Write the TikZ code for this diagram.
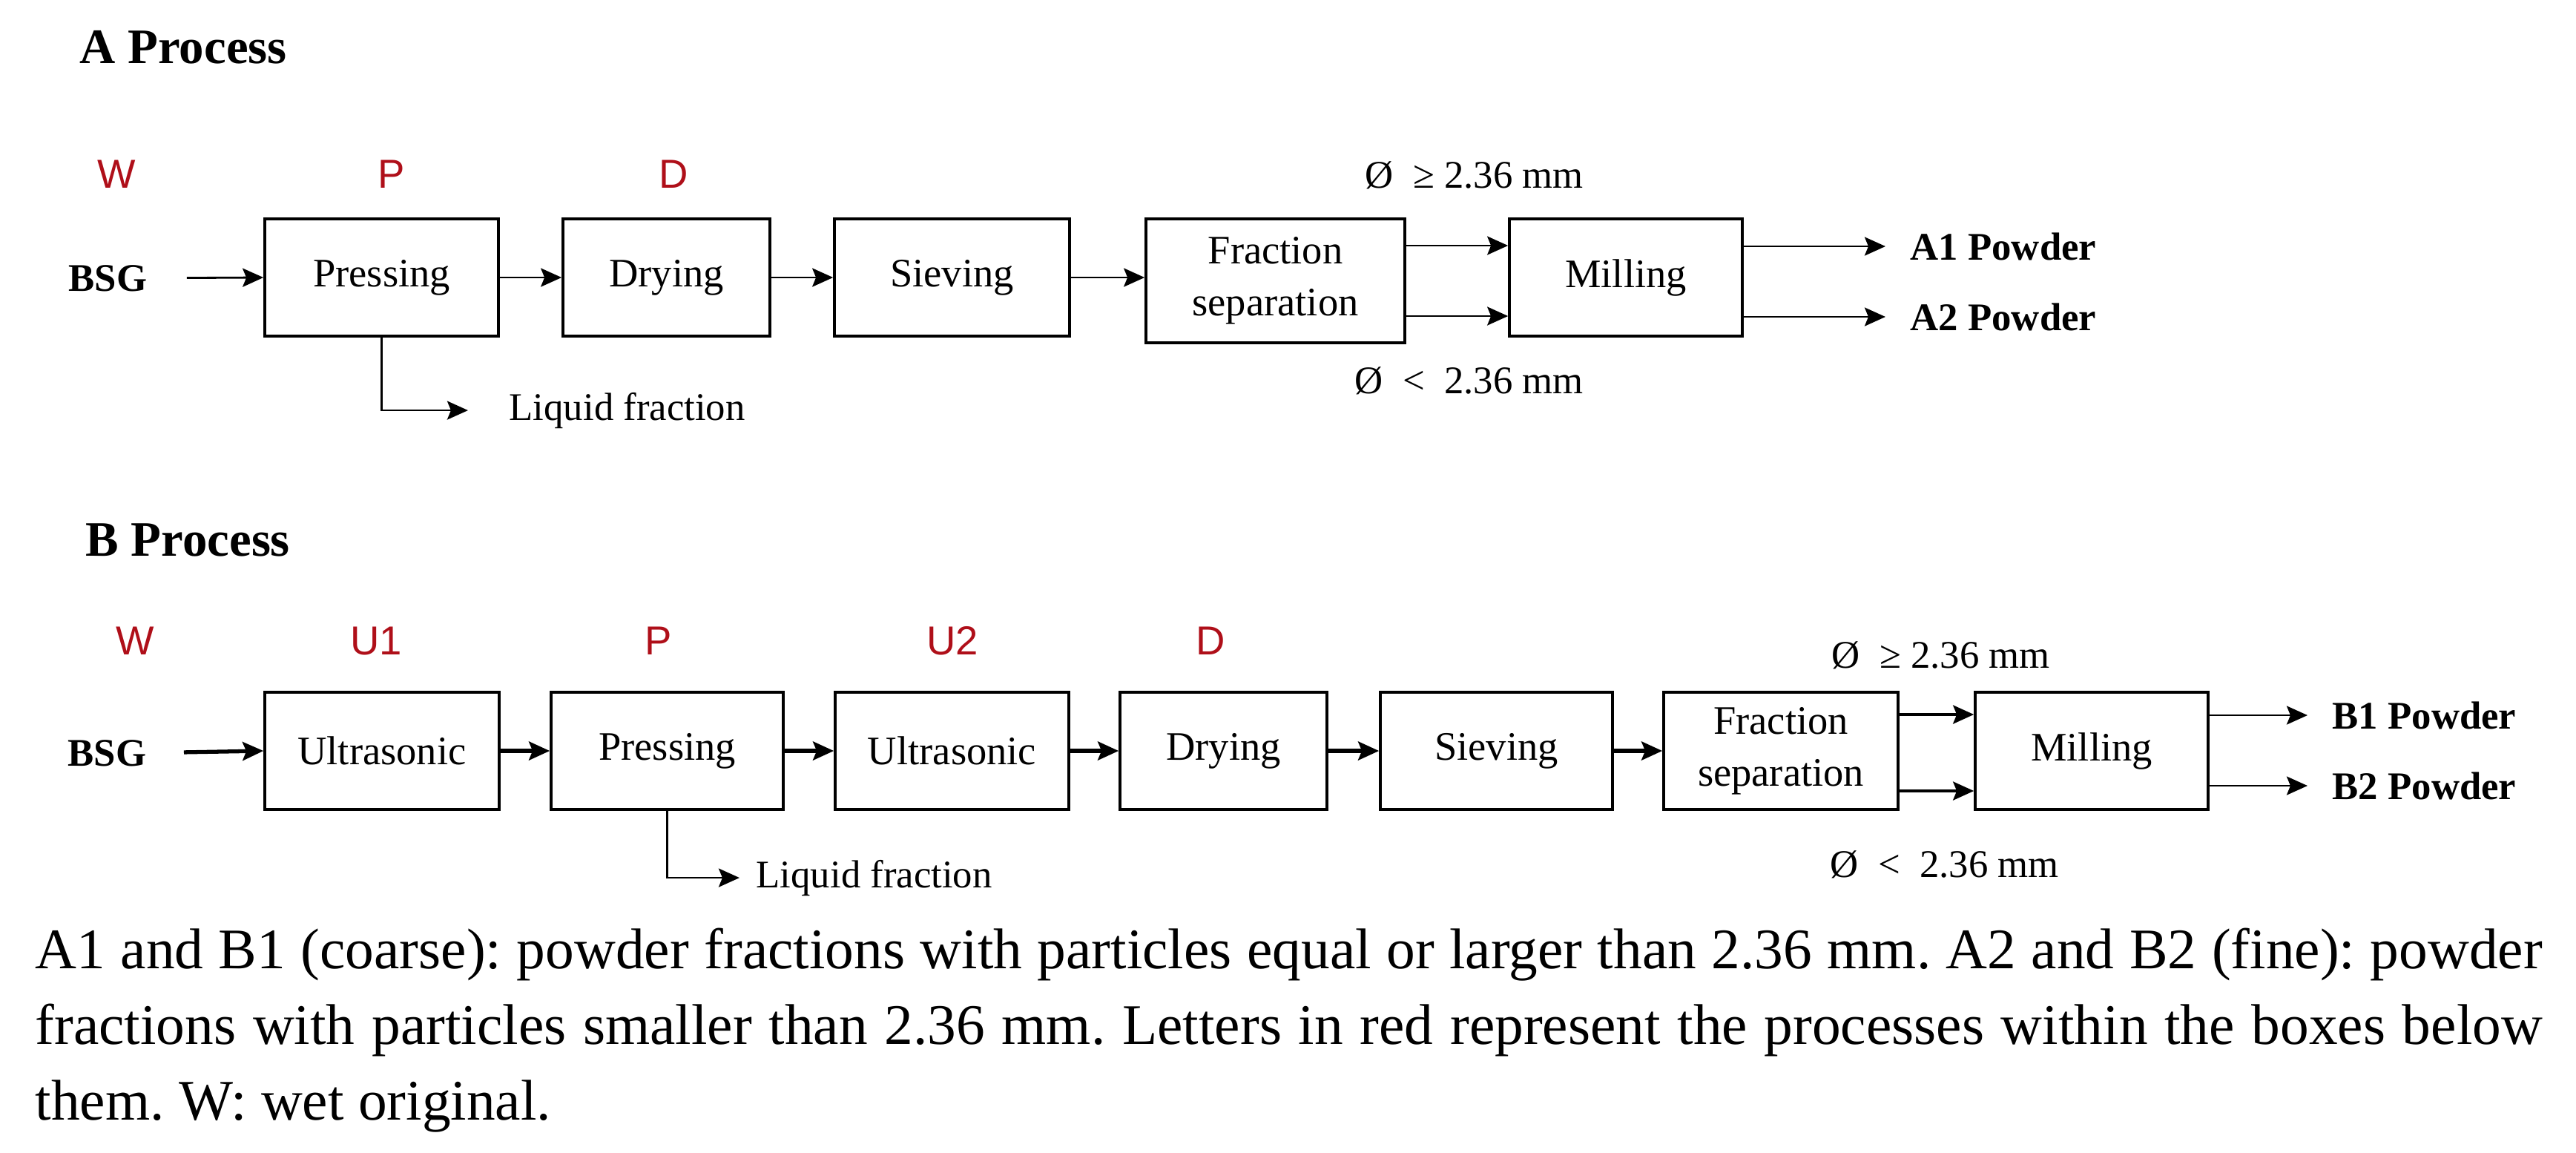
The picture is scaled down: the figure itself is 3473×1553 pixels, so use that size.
\documentclass[tikz,border=0pt]{standalone}
\usepackage{fontspec}
\setmainfont{Liberation Serif}
\newfontfamily\redfont{Liberation Sans}
\usetikzlibrary{arrows.meta}
\definecolor{procred}{RGB}{175,15,25}
\frenchspacing
\begin{document}
\begin{tikzpicture}[x=0.01cm,y=-0.01cm,
  box/.style={draw=black,line width=1pt,inner sep=0pt,minimum height=1.58cm,align=center,font=\fontsize{15.5}{20}\selectfont},
  lbl/.style={inner sep=0pt,font=\fontsize{15}{18}\selectfont},
  boldlbl/.style={inner sep=0pt,font=\fontsize{15}{18}\selectfont\bfseries},
  ttl/.style={inner sep=0pt,font=\fontsize{19}{23}\selectfont\bfseries,anchor=base west},
  redl/.style={inner sep=0pt,text=procred,font=\redfont\fontsize{15.5}{18}\selectfont,anchor=base},
  captxt/.style={inner sep=0pt,anchor=base west,font=\fontsize{22}{29}\selectfont},
  arr/.style={line width=0.8pt,-{Stealth[length=0.28cm,width=0.25cm,inset=0.05cm]}},
  arrb/.style={line width=1.5pt,-{Stealth[length=0.28cm,width=0.25cm,inset=0.05cm]}}
]
\useasboundingbox (0,0) rectangle (3473,1553);

% ---------------- A process ----------------
\node[ttl] (tA) at (107,85) {A Process};
\node[redl] (rAW) at (157,253) {W};
\node[redl] (rAP) at (528,253) {P};
\node[redl] (rAD) at (908,253) {D};
\node[boldlbl,anchor=base west] (bsgA) at (92,392) {BSG};
\node[box,minimum width=3.15cm] (aP) at (514.5,374) {Pressing};
\node[box,minimum width=2.79cm] (aD) at (898.5,374) {Drying};
\node[box,minimum width=3.17cm] (aS) at (1283.5,374) {Sieving};
\node[box,minimum width=3.49cm,minimum height=1.67cm] (aF) at (1719.5,378.5) {Fraction\\separation};
\node[box,minimum width=3.14cm] (aM) at (2192,374) {Milling};
\node[boldlbl,anchor=west] (pA1) at (2575,332) {A1 Powder};
\node[boldlbl,anchor=west] (pA2) at (2575,427) {A2 Powder};
\node[lbl,anchor=base west] (gA) at (1840,253) {Ø\enspace≥ 2.36 mm};
\node[lbl,anchor=base west] (sA) at (1826,530) {Ø\enspace<\enspace2.36 mm};
\node[lbl,anchor=base west] (liqA) at (686,566) {Liquid fraction};
\coordinate (yA1) at (0,331);
\coordinate (yA2) at (0,426);

\draw[arr,shorten <=0.53cm] (bsgA.east) -- (aP.west);
\draw[arr] (aP.east) -- (aD.west);
\draw[arr] (aD.east) -- (aS.west);
\draw[arr] (aS.east) -- (aS.east -| aF.west);
\draw[arr] (aF.east |- yA1) -- (aM.west |- yA1);
\draw[arr] (aF.east |- yA2) -- (aM.west |- yA2);
\draw[arr,shorten >=0.33cm] (aM.east |- pA1.west) -- (pA1.west);
\draw[arr,shorten >=0.33cm] (aM.east |- pA2.west) -- (pA2.west);
\draw[arr,shorten >=0.55cm] (aP.south) |- (liqA.west);

% ---------------- B process ----------------
\node[ttl] (tB) at (115,749) {B Process};
\node[redl] (rBW) at (182,882) {W};
\node[redl] (rBU1) at (507,882) {U1};
\node[redl] (rBP) at (888,882) {P};
\node[redl] (rBU2) at (1284,882) {U2};
\node[redl] (rBD) at (1632,882) {D};
\node[boldlbl,anchor=base west] (bsgB) at (91,1032) {BSG};
\node[box,minimum width=3.16cm] (bU1) at (515,1012) {Ultrasonic};
\node[box,minimum width=3.13cm] (bP) at (899.5,1012) {Pressing};
\node[box,minimum width=3.15cm] (bU2) at (1283.5,1012) {Ultrasonic};
\node[box,minimum width=2.79cm] (bD) at (1649.5,1012) {Drying};
\node[box,minimum width=3.13cm] (bS) at (2017.5,1012) {Sieving};
\node[box,minimum width=3.16cm] (bF) at (2401,1012) {Fraction\\separation};
\node[box,minimum width=3.14cm] (bM) at (2820,1012) {Milling};
\node[boldlbl,anchor=west] (pB1) at (3144,964) {B1 Powder};
\node[boldlbl,anchor=west] (pB2) at (3144,1059) {B2 Powder};
\node[lbl,anchor=base west] (gB) at (2469,900) {Ø\enspace≥ 2.36 mm};
\node[lbl,anchor=base west] (sB) at (2467,1182) {Ø\enspace<\enspace2.36 mm};
\node[lbl,anchor=base west] (liqB) at (1019,1196) {Liquid fraction};
\coordinate (yB1) at (0,963);
\coordinate (yB2) at (0,1066);

\draw[arrb,shorten <=0.5cm] (bsgB.east) -- (bU1.west);
\draw[arrb] (bU1.east) -- (bP.west);
\draw[arrb] (bP.east) -- (bU2.west);
\draw[arrb] (bU2.east) -- (bD.west);
\draw[arrb] (bD.east) -- (bS.west);
\draw[arrb] (bS.east) -- (bF.west);
\draw[arr,line width=1.1pt] (bF.east |- yB1) -- (bM.west |- yB1);
\draw[arr,line width=1.1pt] (bF.east |- yB2) -- (bM.west |- yB2);
\draw[arr,shorten >=0.33cm] (bM.east |- pB1.west) -- (pB1.west);
\draw[arr,shorten >=0.33cm] (bM.east |- pB2.west) -- (pB2.west);
\draw[arr,shorten >=0.22cm] (bP.south) |- (liqB.west);

% ---------------- caption ----------------
\node[captxt] (c1) at (47,1305) {\makebox[33.78cm][s]{A1 and B1 (coarse): powder fractions with particles equal or larger than 2.36 mm. A2 and B2 (fine): powder}};
\node[captxt] (c2) at (47,1407) {\makebox[33.78cm][s]{fractions with particles smaller than 2.36 mm. Letters in red represent the processes within the boxes below}};
\node[captxt] (c3) at (47,1509) {them. W: wet original.};
\end{tikzpicture}
\end{document}
